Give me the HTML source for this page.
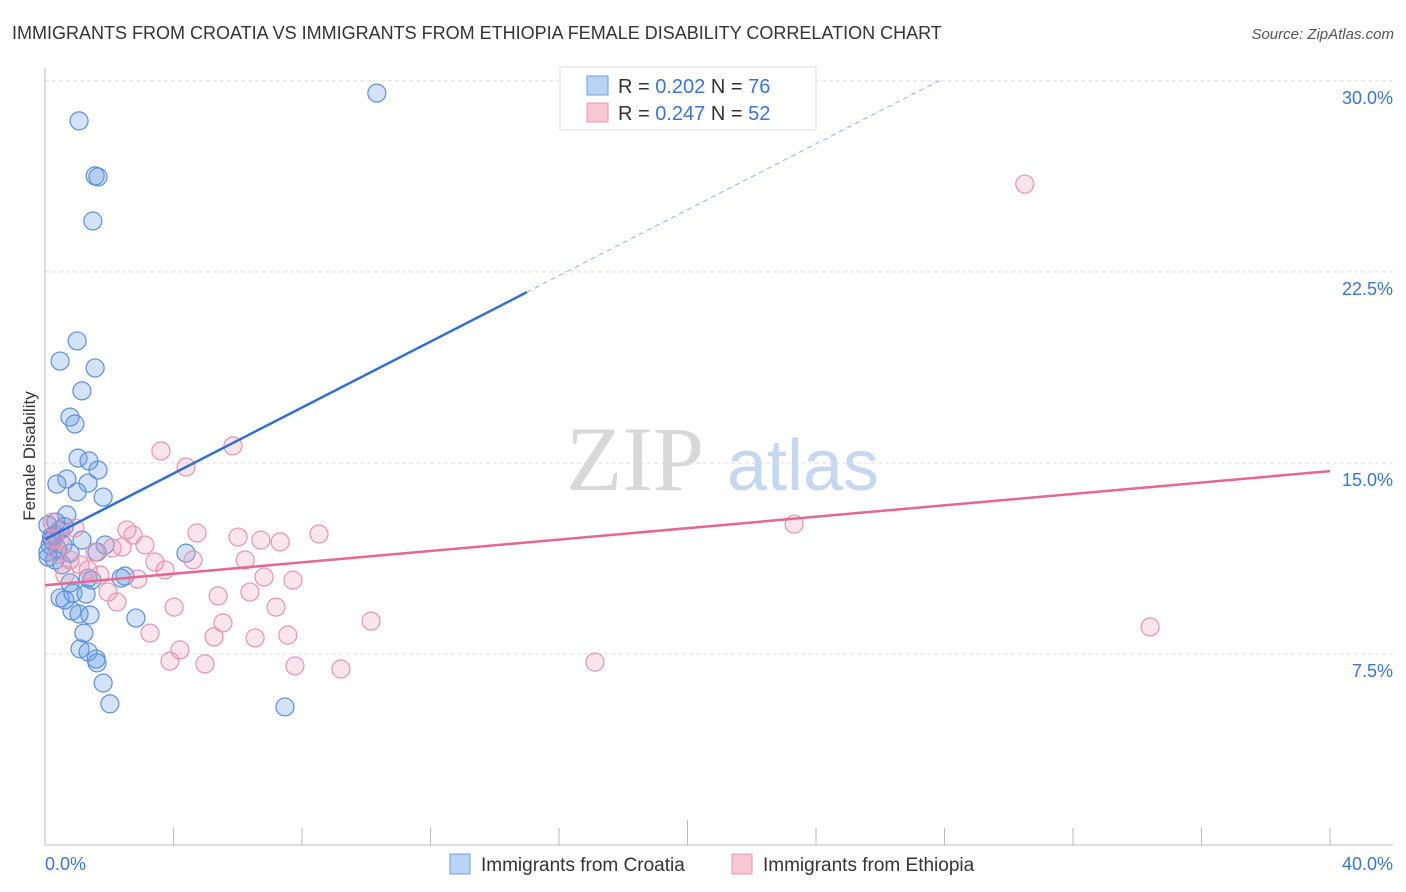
<!DOCTYPE html>
<html><head><meta charset="utf-8"><style>
body{margin:0;background:#fff;font-family:"Liberation Sans",sans-serif;}
svg{display:block}
</style></head><body>
<svg id="chart" width="1406" height="892">
<text x="12" y="39" font-size="18" fill="#333">IMMIGRANTS FROM CROATIA VS IMMIGRANTS FROM ETHIOPIA FEMALE DISABILITY CORRELATION CHART</text>
<text x="1394" y="39" font-size="15" fill="#555" font-style="italic" text-anchor="end">Source: ZipAtlas.com</text>
<text x="35" y="456" font-size="17" fill="#333" text-anchor="middle" transform="rotate(-90 35 456)">Female Disability</text>
<g>
<text x="635" y="490" font-size="92" fill="#d8d8d8" font-family="Liberation Serif,serif" text-anchor="middle">ZIP</text>
<text x="803" y="490" font-size="72" fill="#c5d8f0" text-anchor="middle">atlas</text>
</g>
<g id="grid"></g>
<g id="axes"></g>
<g id="marks"></g>
<g>
<rect x="560" y="67" width="256" height="63" fill="#fff" stroke="#ddd"/>
<rect x="587" y="76" width="21" height="19" fill="#b9d3f5" stroke="#6e9fe0"/>
<rect x="587" y="103" width="21" height="19" fill="#f9c6d5" stroke="#e997b2"/>
<text x="618" y="93" font-size="20" fill="#333">R = <tspan fill="#3a75d8">0.202</tspan>   N = <tspan fill="#3a75d8">76</tspan></text>
<text x="618" y="120" font-size="20" fill="#333">R = <tspan fill="#3a75d8">0.247</tspan>   N = <tspan fill="#3a75d8">52</tspan></text>
</g>
<g>
<rect x="450" y="854" width="20" height="20" fill="#b9d3f5" stroke="#6e9fe0"/>
<text x="481" y="871" font-size="19" fill="#333">Immigrants from Croatia</text>
<rect x="732" y="854" width="20" height="20" fill="#f9c6d5" stroke="#e997b2"/>
<text x="763" y="871" font-size="19" fill="#333">Immigrants from Ethiopia</text>
</g>
</svg>
<script>
const yTicks=[7.5,15,22.5,30];
const yTickLabels=["7.5%","15.0%","22.5%","30.0%"];
const xTickCount=10;
const blueX=[10.33,1.06,1.56,1.65,1.49,1.0,0.47,1.56,1.15,0.78,0.93,1.03,1.37,1.65,0.68,0.37,1.34,1.0,1.81,0.68,0.34,0.09,0.47,0.22,0.56,0.09,0.78,1.15,0.31,0.53,1.87,1.62,4.39,0.78,1.34,1.46,2.49,2.37,0.47,0.87,1.28,0.84,1.06,1.40,2.83,1.21,1.09,1.34,1.59,1.62,1.81,2.02,7.47,0.62,0.16,0.31,0.4,0.2,0.1,0.6];
const blueY=[29.52,28.43,26.27,26.23,24.5,19.79,19.0,18.73,17.83,16.8,16.53,15.19,15.08,14.72,14.37,14.17,14.21,13.86,13.66,12.96,12.68,12.56,12.37,11.97,11.78,11.5,11.46,11.97,11.19,11.0,11.78,11.5,11.46,10.29,10.48,10.4,10.56,10.48,9.7,9.89,9.85,9.19,9.07,9.03,8.91,8.32,7.7,7.58,7.3,7.15,6.36,5.54,5.42,9.62,11.78,12.17,11.6,12.1,11.3,12.5];
const pinkX=[30.5,34.4,17.12,23.32,5.85,3.61,4.39,2.55,2.74,3.11,4.73,6.01,6.72,7.32,8.53,2.4,2.09,1.56,3.42,4.61,3.74,6.23,1.71,2.89,6.82,7.72,1.96,2.24,5.39,6.38,4.02,7.19,5.54,3.27,5.26,6.54,7.56,10.15,4.2,3.89,4.98,7.78,9.21,0.22,0.47,0.78,1.09,1.34,0.62,0.4,0.93,0.3];
const pinkY=[25.95,8.56,7.18,12.6,15.67,15.47,14.84,12.37,12.17,11.78,12.25,12.09,11.97,11.9,12.21,11.7,11.66,11.5,11.11,11.19,10.8,11.19,10.6,10.44,10.52,10.4,9.93,9.54,9.78,9.93,9.34,9.34,8.72,8.32,8.17,8.13,8.24,8.79,7.66,7.22,7.11,7.03,6.91,12.68,11.97,11.19,11.0,10.8,10.6,11.4,12.45,12.0];
const blueFit=[12.0,0.647];
const pinkFit=[10.2,0.112];
const X=v=>45+v*32.125, Y=v=>845-v*25.47;
const NS="http://www.w3.org/2000/svg";
function mk(tag,attrs,parent){const e=document.createElementNS(NS,tag);for(const k in attrs)e.setAttribute(k,attrs[k]);parent.appendChild(e);return e;}
const grid=document.getElementById('grid'),axes=document.getElementById('axes'),marks=document.getElementById('marks');
yTicks.forEach((t,i)=>{
 const l=mk('line',{x1:45,x2:1393,y1:Y(t),y2:Y(t),stroke:'#ddd','stroke-dasharray':'4,3'},grid);
 
 
 const tx=mk('text',{x:1393,y:Y(t)+23,'font-size':18,fill:'#3a75d8','text-anchor':'end'},grid);
 tx.textContent=yTickLabels[i];
 
 
});
const ax=mk('line',{x1:45,x2:1393,y1:845,y2:845,stroke:'#bbb'},axes);


const ay=mk('line',{x1:45,x2:45,y1:68,y2:845,stroke:'#bbb'},axes);


for(let i=1;i<=xTickCount;i++){
 const x=X(i*4);
 const t=mk('line',{x1:x,x2:x,y1:i==5?820:828,y2:845,stroke:'#bbb'},axes);
 
 
}
const xl0=mk('text',{x:45,y:870,'font-size':18,fill:'#3a75d8'},axes);xl0.textContent='0.0%';


const xl1=mk('text',{x:1393,y:870,'font-size':18,fill:'#3a75d8','text-anchor':'end'},axes);xl1.textContent='40.0%';


blueX.forEach((v,i)=>{
 const c=mk('circle',{cx:X(v),cy:Y(blueY[i]),r:9,fill:'rgba(110,160,230,0.3)',stroke:'#5b8fdc','stroke-width':1.2},marks);
 
 
});
pinkX.forEach((v,i)=>{
 const c=mk('circle',{cx:X(v),cy:Y(pinkY[i]),r:9,fill:'rgba(240,150,180,0.25)',stroke:'#ea93b0','stroke-width':1.2},marks);
 
 
});
const f=(fit,x)=>fit[0]+fit[1]*x;
const b1=mk('line',{x1:X(0),y1:Y(f(blueFit,0)),x2:X(15),y2:Y(f(blueFit,15)),stroke:'#2f6fd6','stroke-width':2.5},marks);


const b2=mk('line',{x1:X(15),y1:Y(f(blueFit,15)),x2:X(27.9),y2:Y(f(blueFit,27.9)),stroke:'#8fb3ea','stroke-width':1,'stroke-dasharray':'5,4'},marks);


const p1=mk('line',{x1:X(0),y1:Y(f(pinkFit,0)),x2:X(40),y2:Y(f(pinkFit,40)),stroke:'#e6678f','stroke-width':2.5},marks);


</script>
</body></html>
